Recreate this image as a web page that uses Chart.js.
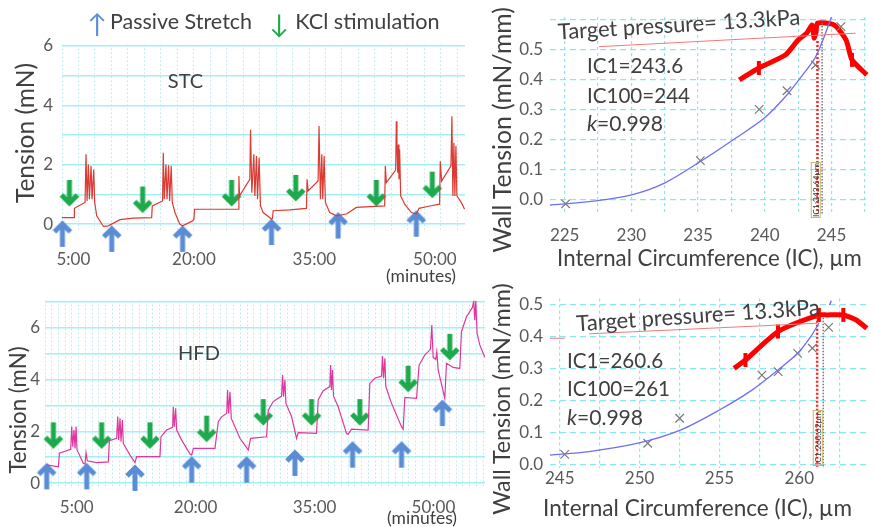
<!DOCTYPE html>
<html>
<head>
<meta charset="utf-8">
<script src="https://cdn.jsdelivr.net/npm/chart.js@4.4.0/dist/chart.umd.min.js"></script>
<style>
  body { margin: 0; background: #fff; }
  #wrap { position: relative; width: 874px; height: 527px; overflow: hidden; font-family: Lato, 'Open Sans', sans-serif; color: #404040; }
  canvas { position: absolute; }
  .t { position: absolute; white-space: nowrap; line-height: 1; transform-origin: center; }
</style>
</head>
<body>
<div id="wrap">
  <canvas id="stc" width="480" height="260" style="left:0;top:30px"></canvas>
  <canvas id="hfd" width="490" height="237" style="left:0;top:290px"></canvas>
  <canvas id="icStc" width="384" height="270" style="left:490px;top:0"></canvas>
  <canvas id="icHfd" width="384" height="257" style="left:490px;top:270px"></canvas>
</div>
<script>
// ---- tension traces (minutes, mN) ----
const stcTime = [3.55,5.08,5.12,6.45,6.57,6.70,6.86,6.99,7.2,7.32,7.53,7.65,7.9,8.73,9.35,10.8,12.46,14.74,14.82,16.1,16.19,16.31,16.52,16.65,16.85,16.98,17.18,17.31,17.64,18.26,18.59,19.71,20.0,20.08,22.82,25.51,25.6,25.68,26.96,27.05,27.21,27.46,27.59,27.79,27.92,28.12,28.29,28.62,29.66,29.78,29.87,31.94,34.01,34.09,34.22,35.46,35.58,35.75,35.92,36.04,36.21,36.37,36.91,37.74,38.98,40.23,43.75,43.83,43.96,45.12,45.2,45.28,45.37,45.45,45.53,45.61,45.74,46.24,47.07,47.69,48.03,49.35,50.59,50.67,50.84,52.0,52.12,52.24,52.37,52.49,52.62,52.74,53.28,53.7];
const stcTension = [0.22,0.22,0.53,0.73,2.35,0.78,2.01,0.84,1.96,0.84,1.84,0.73,0.28,-0.08,-0.06,0.15,0.2,0.22,0.61,0.78,2.4,0.84,2.01,0.84,1.98,0.78,1.96,0.73,0.39,-0.01,-0.06,0.09,0.15,0.5,0.5,0.5,1.62,0.95,1.51,3.18,1.06,2.35,0.95,2.29,0.84,2.23,0.61,0.39,0.17,0.19,0.45,0.48,0.53,1.51,1.12,1.45,3.3,0.84,2.35,0.84,2.29,0.73,0.39,0.28,0.34,0.56,0.61,1.96,1.4,1.82,3.46,2.63,1.73,2.68,1.51,2.51,0.95,0.67,0.39,0.34,0.53,0.61,0.67,2.12,1.45,1.96,3.63,0.95,2.74,0.95,2.63,0.95,0.73,0.5];
const stcStretchTime = [3.63,9.77,18.59,29.66,37.95,47.69];
const stcStretchTension = [0.11,-0.06,-0.06,0.17,0.39,0.45];
const stcKclTime = [4.5,13.62,24.69,32.68,42.71,49.68];
const stcKclTension = [0.61,0.39,0.61,0.78,0.61,0.89];

const hfdTime = [1.22,2.69,2.82,4.24,4.37,4.5,4.66,4.79,4.92,5.04,
  5.84,6.05,6.18,6.34,7.52,8.99,9.12,10.04,10.17,10.29,
  10.46,10.59,10.76,10.88,11.72,12.35,12.56,14.24,15.5,15.63,16.34,
  17.1,17.18,17.31,17.48,17.61,18.24,19.29,19.5,19.71,22.44,
  22.86,23.28,23.91,24.03,24.16,24.33,24.5,25.59,26.64,26.93,28.95,
  29.16,29.79,30.84,30.97,31.09,31.26,31.39,32.1,32.73,32.94,35.25,
  35.46,36.09,36.93,37.02,37.14,37.27,37.39,37.98,39.03,39.24,39.66,
  41.76,41.97,42.6,43.45,43.57,43.7,43.87,43.99,44.71,45.97,46.18,
  46.39,47.86,48.19,48.9,49.62,49.79,49.96,50.29,50.42,50.59,51.43,
  51.64,52.48,53.32,53.53,54.16,54.92,55.08,55.21,55.34,55.5,55.84,
  56.47];
const hfdTension = [0.7,0.63,1.15,1.3,2.18,1.4,2.05,1.34,2.18,1.28,
  0.76,0.73,1.17,0.86,0.79,0.82,1.64,1.73,2.57,1.66,
  2.5,1.6,2.44,1.53,1.08,0.79,1.02,1.02,1.02,1.79,2.05,
  2.15,2.95,2.18,2.89,2.05,1.66,1.12,1.08,1.34,1.34,
  2.37,2.56,2.69,3.6,2.69,3.53,2.5,1.73,1.28,1.73,1.79,
  2.82,3.15,3.36,4.18,3.34,3.98,3.08,2.57,1.73,1.95,1.92,
  3.21,3.57,3.73,4.56,3.6,4.37,3.36,2.95,1.92,1.88,2.08,
  2.05,3.85,4.05,4.14,4.91,4.05,4.82,3.73,3.08,2.18,2.08,
  3.31,3.27,4.56,4.95,5.17,6.11,4.86,4.78,5.08,4.37,3.27,
  4.63,4.47,4.43,5.85,6.43,6.79,7.05,6.3,7.05,5.79,5.34,
  4.86];
const hfdStretchTime = [1.22,6.26,12.35,19.5,26.43,32.52,39.79,45.97,51.13];
const hfdStretchTension = [0.76,0.76,0.70,1.02,1.02,1.28,1.6,1.6,3.21];
const hfdKclTime = [2.06,8.15,14.24,21.39,28.53,34.62,40.71,46.81,52.06];
const hfdKclTension = [1.34,1.34,1.34,1.6,2.24,2.24,2.24,3.53,4.76];

const timeTicks = [5, 20, 35, 50];
const tensionTicks = [0, 1, 2, 3, 4, 5, 6, 7];

// ---- wall tension vs internal circumference (um, mN/mm) ----
const stcIC = [225.07,235.17,239.58,241.67,243.8,245.71];
const stcWT = [-0.013,0.131,0.302,0.364,0.45,0.578];
const stcFitIC = [223.9,226.84,230.02,232.48,235.17,237.62,239.95,241.54,242.77,243.75,244.36,245.0];
const stcFitWT = [-0.017,-0.006,0.017,0.056,0.128,0.2,0.272,0.344,0.413,0.472,0.533,0.61];
const stcTargetIC = [227.57,246.81];
const stcTargetWT = [0.511,0.556];
const stcPathIC = [238.09,239.56,241.54,242.5,243.16,243.55,243.7,243.85,243.95,245.22,246.1,246.54,247.65];
const stcPathWT = [0.40,0.44,0.483,0.533,0.557,0.583,0.54,0.56,0.59,0.583,0.533,0.467,0.417];
const stcIC1 = 243.95, stcIC100 = 244.3;

const hfdIC = [245.31,250.51,252.51,257.66,258.68,259.9,260.82,261.84];
const hfdWT = [0.033,0.068,0.146,0.281,0.292,0.349,0.365,0.43];
const hfdFitIC = [244.39,246.84,249.9,252.55,255.0,257.04,258.67,259.9,260.72,261.23];
const hfdFitWT = [0.031,0.042,0.068,0.109,0.172,0.234,0.297,0.349,0.401,0.443];
const hfdTargetIC = [244.39,245.31,246.0,246.84,261.12];
const hfdTargetWT = [0.396,0.396,null,0.41,0.443];
const hfdPathIC = [255.92,256.63,258.67,261.23,261.74,262.76,263.57,264.23];
const hfdPathWT = [0.302,0.328,0.417,0.469,0.469,0.469,0.453,0.427];
const hfdIC1 = 261.12, hfdIC100 = 261.5;

const wtTicks = [0, 0.1, 0.2, 0.3, 0.4, 0.5];

const CYAN = '#a4eef6';
const TICK = '#595959';
const FONT = 'Lato, "Open Sans", sans-serif';

function pts(xs, ys) {
  return xs.map((x, i) => ({ x: x, y: ys[i] }));
}

function makeArrow(color, up, len) {
  const c = document.createElement('canvas');
  c.width = 24;
  c.height = len * 2 + 6;
  const g = c.getContext('2d');
  const mid = len + 3;
  const d = up ? 1 : -1;
  g.strokeStyle = color;
  g.lineWidth = 5;
  g.lineJoin = 'miter';
  g.beginPath();
  g.moveTo(12, mid + d * 4);
  g.lineTo(12, mid + d * len);
  g.stroke();
  g.beginPath();
  g.moveTo(4, mid + d * 11);
  g.lineTo(12, mid + d * 3);
  g.lineTo(20, mid + d * 11);
  g.stroke();
  return c;
}

function fixW(w) {
  return s => { s.width = w; s.paddingTop = 0; s.paddingBottom = 0; s.paddingLeft = 0; s.paddingRight = 0; };
}
function fixH(h) {
  return s => { s.height = h; s.paddingTop = 0; s.paddingBottom = 0; s.paddingLeft = 0; s.paddingRight = 0; };
}
function setTicks(list) {
  return s => { s.ticks = list.map(v => ({ value: v })); };
}
function stepTicks(from, to, step) {
  return s => {
    const t = [];
    for (let v = from; v <= to + 1e-9; v += step) t.push({ value: v });
    s.ticks = t;
  };
}

const blueUp = makeArrow('#5a8dd6', true, 26);
const greenDown = makeArrow('#1eaa4c', false, 26);

function renderTrace(id, times, tension, color, sT, sV, kT, kV, lay) {
  const ctx = document.getElementById(id);
  new Chart(ctx, {
    type: 'line',
    data: {
      datasets: [
        { data: pts(times, tension), borderColor: color, borderWidth: 1.2, pointRadius: 0, tension: 0 },
        { data: pts(sT, sV), showLine: false, pointStyle: blueUp, clip: false },
        { data: pts(kT, kV), showLine: false, pointStyle: greenDown, clip: false }
      ]
    },
    options: {
      responsive: false,
      animation: false,
      events: [],
      layout: { padding: { left: 0, right: lay.right, top: lay.top, bottom: 0 } },
      plugins: { legend: { display: false }, tooltip: { enabled: false } },
      scales: {
        x: {
          type: 'linear', min: lay.xMin, max: lay.xMax,
          afterBuildTicks: setTicks(timeTicks),
          afterFit: fixH(lay.xH),
          ticks: { callback: v => v + ':00', color: TICK, font: { family: FONT, size: 17 }, padding: lay.xPad, maxRotation: 0, autoSkip: false },
          grid: { display: false, drawTicks: false },
          border: { display: false }
        },
        xg: {
          type: 'linear', position: 'bottom', min: lay.xMin, max: lay.xMax,
          afterBuildTicks: stepTicks(lay.xMin, lay.xMax, lay.gridStep),
          afterFit: fixH(0),
          ticks: { display: false },
          grid: { color: CYAN, lineWidth: 1, drawTicks: false },
          border: { display: false, dash: [1.5, 2.5] }
        },
        y: {
          min: lay.yMin, max: lay.yMax,
          afterBuildTicks: setTicks(tensionTicks.filter(v => v <= lay.yMax)),
          afterFit: fixW(lay.yW),
          ticks: { callback: v => (v % 2 === 0 ? v : ''), color: TICK, font: { family: FONT, size: 17 }, padding: lay.yPad },
          grid: { color: CYAN, lineWidth: 1.5, drawTicks: false },
          border: { display: false }
        }
      }
    }
  });
}

function renderIC(id, ic, wt, fitIC, fitWT, tIC, tWT, pIC, pWT, marks, ic1, ic100, tiny, lay) {
  const ctx = document.getElementById(id);
  const radius = pIC.map((v, i) => (marks.indexOf(i) >= 0 ? 7 : 0));
  const sets = [
    { data: pts(tIC, tWT), borderColor: '#f07a7a', borderWidth: 1, pointRadius: 0, spanGaps: false },
    { data: pts(fitIC, fitWT), borderColor: '#6f6ff2', borderWidth: 1.3, pointRadius: 0, tension: 0.3 },
    { data: [{ x: ic1, y: lay.ic1Top }, { x: ic1, y: lay.yMin }], borderColor: '#ff2020', borderWidth: 2.5, borderDash: [2, 2], pointRadius: 0 },
    { data: [{ x: ic100, y: lay.ic100Top }, { x: ic100, y: lay.yMin }], borderColor: '#777', borderWidth: 1.5, borderDash: [1.5, 1.5], pointRadius: 0 },
    { data: pts(ic, wt), showLine: false, pointStyle: 'crossRot', pointRadius: 6, pointBorderColor: '#7a7a7a', pointBorderWidth: 1.2 },
    { data: pts(pIC, pWT), borderColor: '#ff0000', borderWidth: 5, tension: 0.2, pointRadius: radius, pointStyle: 'line', rotation: 90, pointBorderColor: '#ff0000', pointBorderWidth: 4, clip: false }
  ];
  if (tiny) sets.push({ data: pts(tiny[0], tiny[1]), borderColor: '#6f6ff2', borderWidth: 1.5, pointRadius: 0 });
  new Chart(ctx, {
    type: 'line',
    data: { datasets: sets },
    options: {
      responsive: false,
      animation: false,
      events: [],
      layout: { padding: { left: 0, right: lay.right, top: lay.top, bottom: 0 } },
      plugins: { legend: { display: false }, tooltip: { enabled: false } },
      scales: {
        x: {
          type: 'linear', min: lay.xMin, max: lay.xMax,
          afterBuildTicks: stepTicks(lay.xFirst, lay.xMax, 2.5),
          afterFit: fixH(lay.xH),
          ticks: { callback: v => (v % 5 === 0 ? v : ''), color: TICK, font: { family: FONT, size: 17 }, padding: lay.xPad, maxRotation: 0, autoSkip: false },
          grid: { color: '#86e9f2', lineWidth: 1.2, drawTicks: false },
          border: { display: false, dash: [3, 3] }
        },
        y: {
          min: lay.yMin, max: lay.yMax,
          afterBuildTicks: setTicks(wtTicks.concat(lay.extraY)),
          afterFit: fixW(60),
          ticks: { callback: v => (v > 0.55 ? '' : v.toFixed(1)), color: TICK, font: { family: FONT, size: 17 }, padding: 7 },
          grid: { color: '#86e9f2', lineWidth: 1.2, drawTicks: false },
          border: { display: false, dash: [6, 4] }
        }
      }
    }
  });
}

renderTrace('stc', stcTime, stcTension, '#dc3a32', stcStretchTime, stcStretchTension, stcKclTime, stcKclTension,
  { xMin: 3.58, xMax: 53.75, yMin: -0.25, yMax: 6.05, right: 15, top: 14.5, xH: 58.5, yW: 62, xPad: 18, yPad: 9, gridStep: 2.05 });
renderTrace('hfd', hfdTime, hfdTension, '#e0379f', hfdStretchTime, hfdStretchTension, hfdKclTime, hfdKclTension,
  { xMin: 1.0, xMax: 56.5, yMin: -0.15, yMax: 7.05, right: 5, top: 10.7, xH: 40.1, yW: 45, xPad: 10, yPad: 5, gridStep: 0.85 });
renderIC('icStc', stcIC, stcWT, stcFitIC, stcFitWT, stcTargetIC, stcTargetWT, stcPathIC, stcPathWT, [1, 11], stcIC1, stcIC100, null,
  { xMin: 223.9, xMax: 247.65, xFirst: 225, yMin: -0.047, yMax: 0.61, right: 1, top: 17, xH: 56, xPad: 11, extraY: [0.6], ic1Top: 0.53, ic100Top: 0.6 });
renderIC('icHfd', hfdIC, hfdWT, hfdFitIC, hfdFitWT, hfdTargetIC, hfdTargetWT, hfdPathIC, hfdPathWT, [1, 2, 3, 5], hfdIC1, hfdIC100, [[261.9, 262.0], [0.5, 0.513]],
  { xMin: 244.39, xMax: 264.23, xFirst: 245, yMin: -0.01, yMax: 0.52, right: 0, top: 28.6, xH: 58.8, xPad: 0, extraY: [], ic1Top: 0.463, ic100Top: 0.46 });

// ---- text overlays ----
const texts = [
  { html: 'Passive Stretch', cx: 181, cy: 22, w: 142 },
  { html: 'KCl stimulation', cx: 367.5, cy: 22, w: 145 },
  { html: '↑', cx: 97, cy: 23, size: 26, color: '#5a8dd6' },
  { html: '↓', cx: 279, cy: 23, size: 26, color: '#1eaa4c' },
  { html: 'STC', cx: 185.5, cy: 80, w: 35 },
  { html: 'HFD', cx: 199, cy: 352, w: 42 },
  { html: '(minutes)', cx: 421, cy: 276, w: 70 },
  { html: '(minutes)', cx: 422, cy: 518, w: 70 },
  { html: 'Tension (mN)', cx: 25, cy: 133, w: 140, rot: -90 },
  { html: 'Tension (mN)', cx: 18, cy: 410, w: 127, rot: -90 },
  { html: 'Wall Tension (mN/mm)', cx: 502, cy: 130, w: 246, rot: -90 },
  { html: 'Wall Tension (mN/mm)', cx: 502, cy: 399, w: 232, rot: -90 },
  { html: 'Internal Circumference (IC), µm', cx: 709.5, cy: 258, w: 305 },
  { html: 'Internal Circumference (IC), µm', cx: 697.5, cy: 508, w: 309 },
  { html: 'Target pressure= 13.3kPa', cx: 678.5, cy: 24, w: 243, rot: -3.5 },
  { html: 'Target pressure= 13.3kPa', cx: 698, cy: 315, w: 244, rot: -3.9 },
  { html: 'IC1=243.6', cx: 635, cy: 65, w: 96 },
  { html: 'IC100=244', cx: 638.5, cy: 95, w: 103 },
  { html: '<i>k</i>=0.998', cx: 625, cy: 123, w: 76 },
  { html: 'IC1=260.6', cx: 615, cy: 360, w: 96 },
  { html: 'IC100=261', cx: 618.5, cy: 388, w: 103 },
  { html: '<i>k</i>=0.998', cx: 605, cy: 417, w: 76 },
  { html: 'IC1:243.64µm', cx: 816, cy: 190, w: 55, rot: -90, tiny: true },
  { html: 'IC1:260.62µm', cx: 818, cy: 438, w: 55, rot: -90, tiny: true }
];

const wrap = document.getElementById('wrap');
texts.forEach(o => {
  const el = document.createElement('div');
  el.className = 't';
  el.innerHTML = o.html;
  el.style.fontSize = (o.size || 20) + 'px';
  if (o.color) el.style.color = o.color;
  if (o.tiny) { el.style.border = '1px solid #c9b86a'; el.style.color = '#333'; }
  wrap.appendChild(el);
  if (o.w) el.style.fontSize = (20 * o.w / el.offsetWidth) + 'px';
  el.style.left = o.cx + 'px';
  el.style.top = o.cy + 'px';
  el.style.transform = 'translate(-50%, -50%)' + (o.rot ? ' rotate(' + o.rot + 'deg)' : '');
});
</script>
</body>
</html>
